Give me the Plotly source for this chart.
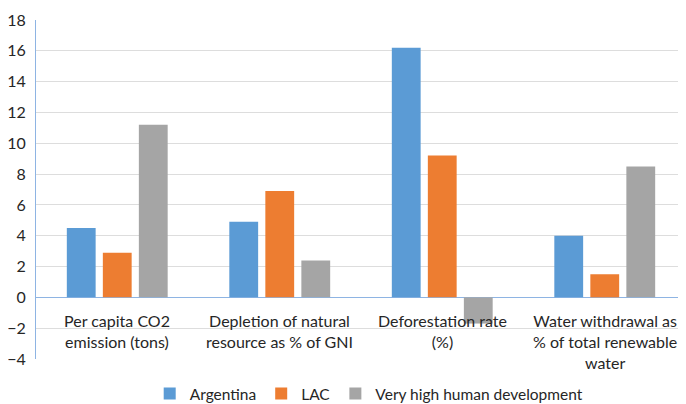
import plotly.graph_objects as go

categories = ["Per capita CO2<br>emission (tons)",
              "Depletion of natural<br>resource as % of GNI",
              "Deforestation rate<br>(%)",
              "Water withdrawal as<br>% of total renewable<br>water"]
argentina = [4.5, 4.9, 16.2, 4.0]
lac = [2.9, 6.9, 9.2, 1.5]
very_high = [11.2, 2.4, -1.7, 8.5]
series_names = ["Argentina", "LAC", "Very high human development"]
colors = ["#5B9BD5", "#ED7D31", "#A5A5A5"]
y_ticks = list(range(-4, 19, 2))

font_family = "Lato, Open Sans, sans-serif"
txt_color = "#262626"

fig = go.Figure()
for name, vals, col in zip(series_names, [argentina, lac, very_high], colors):
    fig.add_trace(go.Bar(x=categories, y=vals, name=name, marker_color=col,
                         marker_line_width=0))

for c in categories:
    fig.add_annotation(x=c, y=0, xref="x", yref="y", text=c, showarrow=False,
                       yanchor="top", yshift=-12, align="center",
                       font=dict(family=font_family, size=16, color=txt_color))

# page has an 8px body margin, so the figure is sized/offset to compensate
fig.update_layout(
    width=678, height=396,
    margin=dict(l=28, r=0, t=12, b=45, autoexpand=False),
    paper_bgcolor="white", plot_bgcolor="white",
    barmode="group", bargap=0.335, bargroupgap=0.2,
    font=dict(family=font_family, size=15, color=txt_color),
    legend=dict(orientation="h", xref="container", yref="paper",
                x=0.209, xanchor="left", y=-0.103, yanchor="middle",
                font=dict(family=font_family, size=15.5, color=txt_color),
                itemwidth=30, traceorder="normal", tracegroupgap=0),
    xaxis=dict(showticklabels=False, showgrid=False, showline=False, zeroline=False),
    yaxis=dict(range=[-4, 18], tickvals=y_ticks, showgrid=True, gridcolor="#DDDDDD",
               gridwidth=1, showline=True, linecolor="#8EB4E3", linewidth=1,
               zeroline=True, zerolinecolor="#8EB4E3", zerolinewidth=1,
               ticks="", ticklen=0, ticklabelstandoff=6,
               tickfont=dict(size=16, color=txt_color)),
)

fig.write_html("out.html")
